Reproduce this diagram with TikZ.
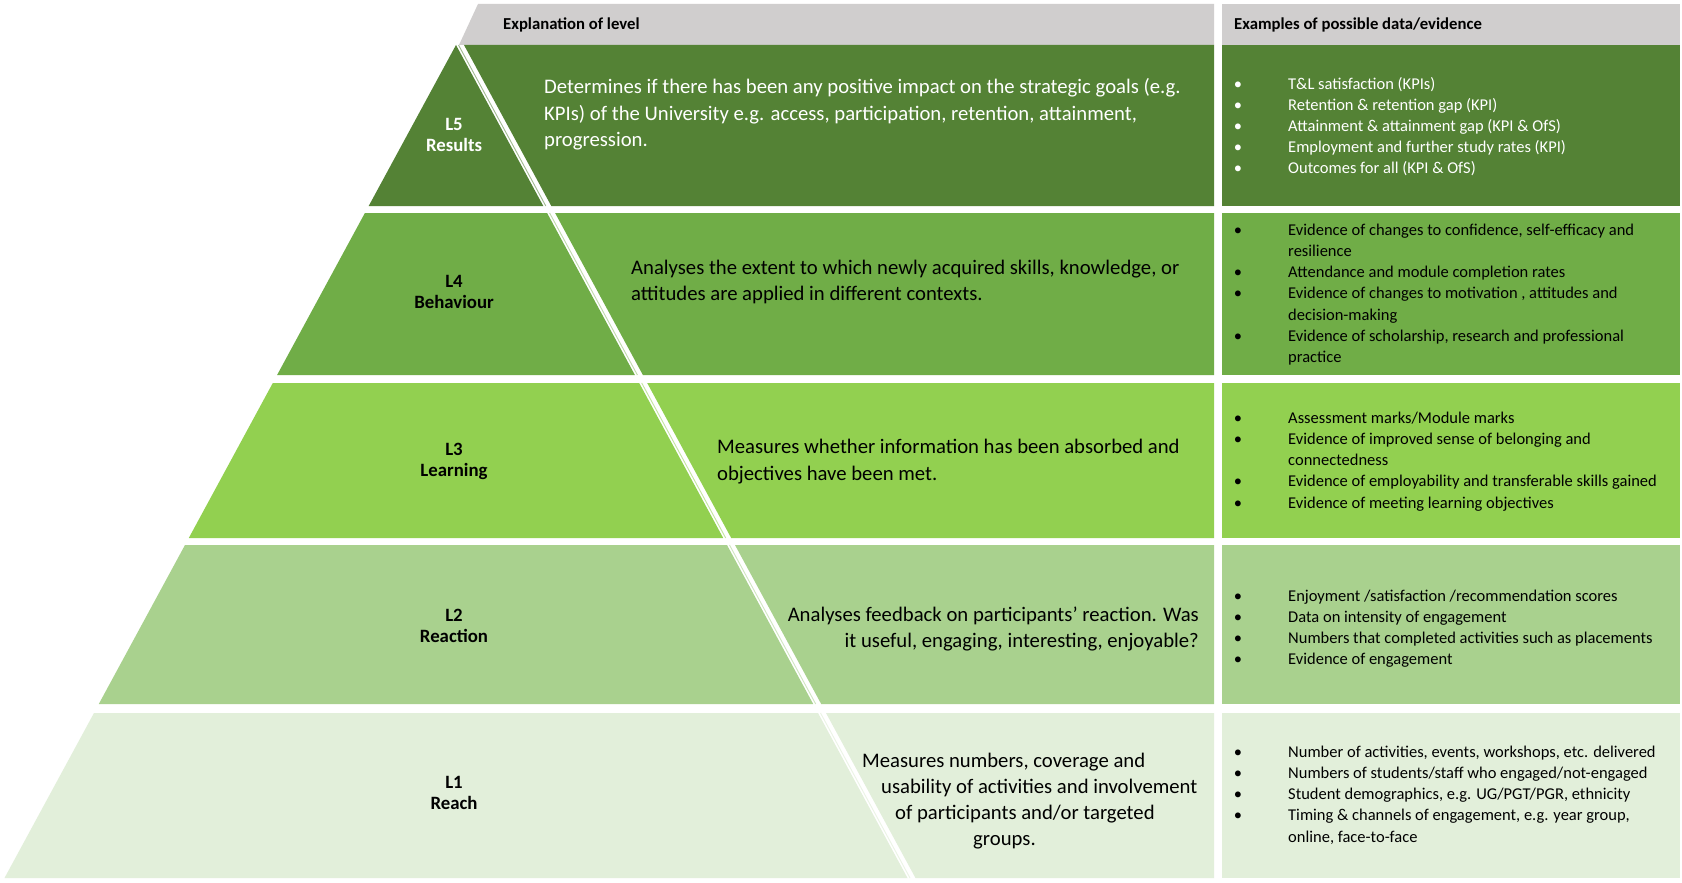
\documentclass[tikz,border=0pt]{standalone}
\usepackage{fontspec}
\setmainfont{Carlito}
\definecolor{cLv}{HTML}{548235}
\definecolor{cLiv}{HTML}{70AD47}
\definecolor{cLiii}{HTML}{92D050}
\definecolor{cLii}{HTML}{A9D18E}
\definecolor{cLi}{HTML}{E2EFDA}
\definecolor{hdrgray}{HTML}{D0CECE}
\tikzset{
  hdrtxt/.style={font=\fontsize{16.7}{19}\selectfont\bfseries, anchor=base west, inner sep=0pt},
  lbl/.style={font=\fontsize{18.8}{21}\selectfont\bfseries, anchor=base, inner sep=0pt},
  midtxt/.style={font=\fontsize{20.7}{26}\selectfont, anchor=base west, inner sep=0pt},
  midtxtr/.style={font=\fontsize{20.7}{26}\selectfont, anchor=base east, inner sep=0pt},
  rtxt/.style={font=\fontsize{16.5}{21}\selectfont, anchor=base west, inner sep=0pt},
  bul/.style={font=\fontsize{16.5}{21}\selectfont, anchor=base, inner sep=0pt},
  sepline/.style={line width=0.9pt},
}
\begin{document}
\begin{tikzpicture}[x=1pt,y=-1pt]
\useasboundingbox[fill=white] (0,0) rectangle (1682,883);
% header
\fill[hdrgray] (478,4) -- (1214,4) -- (1214,45) -- (459,45) -- cycle;
\fill[hdrgray] (1222,4) rectangle (1680,45);
\node[hdrtxt] (h1) at (503,30) {Explanation of level};
\node[hdrtxt] (h2) at (1234,30) {Examples of possible data/evidence};
% L5
\fill[cLv] (456,45) -- (543.3,206) -- (368.7,206) -- cycle;
\fill[cLv] (464,45) -- (1214,45) -- (1214,206) -- (551.3,206) -- cycle;
\fill[cLv] (1222,45) rectangle (1680,206);
\draw[sepline, cLv!55!white] (458.5,45) -- (545.8,206);
% L4
\fill[cLiv] (364.9,213) -- (547.1,213) -- (634.9,375) -- (277.1,375) -- cycle;
\fill[cLiv] (555.1,213) -- (1214,213) -- (1214,375) -- (642.9,375) -- cycle;
\fill[cLiv] (1222,213) rectangle (1680,375);
\draw[sepline, cLiv!45!white] (549.6,213) -- (637.4,375);
% L3
\fill[cLiii] (272.8,383) -- (639.2,383) -- (723.2,538) -- (188.8,538) -- cycle;
\fill[cLiii] (647.2,383) -- (1214,383) -- (1214,538) -- (731.2,538) -- cycle;
\fill[cLiii] (1222,383) rectangle (1680,538);
\draw[sepline, cLiii!55!white] (641.7,383) -- (725.7,538);
% L2
\fill[cLii] (185,545) -- (727,545) -- (813.2,704) -- (98.8,704) -- cycle;
\fill[cLii] (735,545) -- (1214,545) -- (1214,704) -- (821.2,704) -- cycle;
\fill[cLii] (1222,545) rectangle (1680,704);
\draw[sepline, cLii!55!white] (729.5,545) -- (815.7,704);
% L1
\fill[cLi] (94,713) -- (818,713) -- (907.5,878) -- (4.5,878) -- cycle;
\fill[cLi] (826,713) -- (1214,713) -- (1214,878) -- (915.5,878) -- cycle;
\fill[cLi] (1222,713) rectangle (1680,878);
\draw[sepline, cLi!70!white] (820.5,713) -- (910,878);

% L5 texts
\begin{scope}[text=white]
\node[lbl] (l5a) at (454,130.5) {L5};
\node[lbl] (l5b) at (454,151.5) {Results};
\node[midtxt] (m5a) at (544,94) {Determines if there has been any positive impact on the strategic goals (e.g.};
\node[midtxt] (m5b) at (544,120) {KPIs) of the University e.g. access, participation, retention, attainment,};
\node[midtxt] (m5c) at (544,146) {progression.};
\node[bul] (b5a) at (1238,89) {•};
\node[bul] (b5b) at (1238,110.2) {•};
\node[bul] (b5c) at (1238,131.4) {•};
\node[bul] (b5d) at (1238,152.6) {•};
\node[bul] (b5e) at (1238,173.8) {•};
\node[rtxt] (r5a) at (1288,89) {T\&L satisfaction (KPIs)};
\node[rtxt] (r5b) at (1288,110.2) {Retention \& retention gap (KPI)};
\node[rtxt] (r5c) at (1288,131.4) {Attainment \& attainment gap (KPI \& OfS)};
\node[rtxt] (r5d) at (1288,152.6) {Employment and further study rates (KPI)};
\node[rtxt] (r5e) at (1288,173.8) {Outcomes for all (KPI \& OfS)};
\end{scope}

% L4
\node[lbl] (l4a) at (454,287.5) {L4};
\node[lbl] (l4b) at (454,308) {Behaviour};
\node[midtxt] (m4a) at (631,274) {Analyses the extent to which newly acquired skills, knowledge, or};
\node[midtxt] (m4b) at (631,300) {attitudes are applied in different contexts.};
\node[bul] (b4a) at (1238,235) {•};
\node[bul] (b4b) at (1238,277.6) {•};
\node[bul] (b4c) at (1238,298.9) {•};
\node[bul] (b4d) at (1238,341.5) {•};
\node[rtxt] (r4a) at (1288,235) {Evidence of changes to confidence, self-efficacy and};
\node[rtxt] (r4b) at (1288,256.3) {resilience};
\node[rtxt] (r4c) at (1288,277.6) {Attendance and module completion rates};
\node[rtxt] (r4d) at (1288,298.9) {Evidence of changes to motivation , attitudes and};
\node[rtxt] (r4e) at (1288,320.2) {decision-making};
\node[rtxt] (r4f) at (1288,341.5) {Evidence of scholarship, research and professional};
\node[rtxt] (r4g) at (1288,362.8) {practice};

% L3
\node[lbl] (l3a) at (454,455.5) {L3};
\node[lbl] (l3b) at (454,476) {Learning};
\node[midtxt] (m3a) at (717,453) {Measures whether information has been absorbed and};
\node[midtxt] (m3b) at (717,480) {objectives have been met.};
\node[bul] (b3a) at (1238,423) {•};
\node[bul] (b3b) at (1238,444.3) {•};
\node[bul] (b3c) at (1238,486.9) {•};
\node[bul] (b3d) at (1238,508.2) {•};
\node[rtxt] (r3a) at (1288,423) {Assessment marks/Module marks};
\node[rtxt] (r3b) at (1288,444.3) {Evidence of improved sense of belonging and};
\node[rtxt] (r3c) at (1288,465.6) {connectedness};
\node[rtxt] (r3d) at (1288,486.9) {Evidence of employability and transferable skills gained};
\node[rtxt] (r3e) at (1288,508.2) {Evidence of meeting learning objectives};

% L2
\node[lbl] (l2a) at (454,621.5) {L2};
\node[lbl] (l2b) at (454,642) {Reaction};
\node[midtxtr] (m2a) at (1199,621) {Analyses feedback on participants’ reaction. Was};
\node[midtxtr] (m2b) at (1199,647) {it useful, engaging, interesting, enjoyable?};
\node[bul] (b2a) at (1238,601) {•};
\node[bul] (b2b) at (1238,622.3) {•};
\node[bul] (b2c) at (1238,643.6) {•};
\node[bul] (b2d) at (1238,664.9) {•};
\node[rtxt] (r2a) at (1288,601) {Enjoyment /satisfaction /recommendation scores};
\node[rtxt] (r2b) at (1288,622.3) {Data on intensity of engagement};
\node[rtxt] (r2c) at (1288,643.6) {Numbers that completed activities such as placements};
\node[rtxt] (r2d) at (1288,664.9) {Evidence of engagement};

% L1
\node[lbl] (l1a) at (454,788.5) {L1};
\node[lbl] (l1b) at (454,809) {Reach};
\node[midtxt] (m1a) at (862,767) {Measures numbers, coverage and};
\node[midtxt] (m1b) at (881,793) {usability of activities and involvement};
\node[midtxt] (m1c) at (895,819) {of participants and/or targeted};
\node[midtxt] (m1d) at (973,845) {groups.};
\node[bul] (b1a) at (1238,757) {•};
\node[bul] (b1b) at (1238,778.3) {•};
\node[bul] (b1c) at (1238,799.6) {•};
\node[bul] (b1d) at (1238,820.9) {•};
\node[rtxt] (r1a) at (1288,757) {Number of activities, events, workshops, etc. delivered};
\node[rtxt] (r1b) at (1288,778.3) {Numbers of students/staff who engaged/not-engaged};
\node[rtxt] (r1c) at (1288,799.6) {Student demographics, e.g. UG/PGT/PGR, ethnicity};
\node[rtxt] (r1d) at (1288,820.9) {Timing \& channels of engagement, e.g. year group,};
\node[rtxt] (r1e) at (1288,842.2) {online, face-to-face};
\end{tikzpicture}
\end{document}
